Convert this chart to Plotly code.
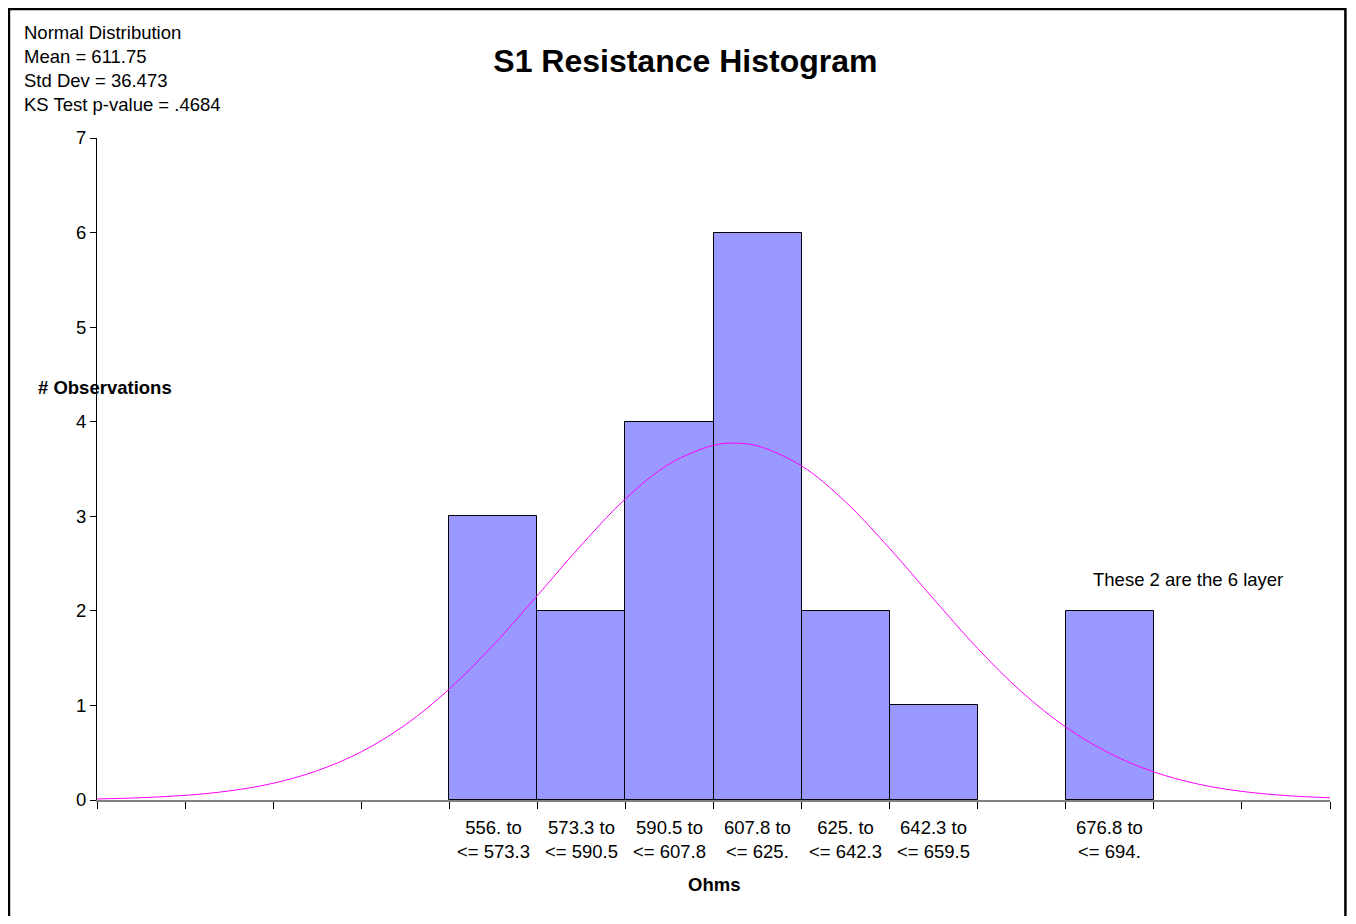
import plotly.graph_objects as go

# --- DATA ---
BIN_LO = [556.0, 573.25, 590.5, 607.75, 625.0, 642.25, 676.75]
BIN_HI = [573.25, 590.5, 607.75, 625.0, 642.25, 659.5, 694.0]
COUNTS = [3, 2, 4, 6, 2, 1, 2]
BIN_LABELS = [
    "556. to<br><= 573.3",
    "573.3 to<br><= 590.5",
    "590.5 to<br><= 607.8",
    "607.8 to<br><= 625.",
    "625. to<br><= 642.3",
    "642.3 to<br><= 659.5",
    "676.8 to<br><= 694.",
]
# axis tick edges (14 slots of equal width)
EDGES = [487.0, 504.25, 521.5, 538.75, 556.0, 573.25, 590.5, 607.75,
         625.0, 642.25, 659.5, 676.75, 694.0, 711.25, 728.5]

# fitted normal curve
CURVE_X = [487.0, 495.6, 504.25, 512.9, 521.5, 530.1, 538.75, 547.4, 556.0,
           564.6, 573.25, 581.9, 590.5, 599.1, 607.75, 611.75, 616.4, 625.0,
           633.6, 642.25, 650.9, 659.5, 668.1, 676.75, 685.4, 694.0, 702.6,
           711.25, 719.9, 728.5]
CURVE_Y = [0.011, 0.024, 0.049, 0.096, 0.177, 0.309, 0.509, 0.795, 1.173,
           1.638, 2.162, 2.698, 3.185, 3.554, 3.751, 3.774, 3.744, 3.533,
           3.153, 2.660, 2.123, 1.602, 1.143, 0.771, 0.492, 0.297, 0.169,
           0.091, 0.047, 0.023]

STATS_TEXT = ("Normal Distribution<br>Mean = 611.75<br>Std Dev = 36.473"
              "<br>KS Test p-value = .4684")

# --- THEME ---
FONT = "Arial, Liberation Sans, sans-serif"
BAR_COLOR = "#9999FF"
CURVE_COLOR = "#FF00FF"
TXT = 18.5

centers = [(a + b) / 2 for a, b in zip(BIN_LO, BIN_HI)]
widths = [b - a for a, b in zip(BIN_LO, BIN_HI)]

fig = go.Figure()

fig.add_trace(go.Bar(
    x=centers, y=COUNTS, width=widths,
    marker=dict(color=BAR_COLOR, line=dict(color="#000000", width=1)),
    showlegend=False, hoverinfo="skip",
))

fig.add_trace(go.Scatter(
    x=CURVE_X, y=CURVE_Y, mode="lines", line_shape="spline",
    line=dict(color=CURVE_COLOR, width=1),
    showlegend=False, hoverinfo="skip",
))

annotations = [
    dict(text=STATS_TEXT, xref="paper", yref="paper",
         x=-0.0605, y=1.1785, xanchor="left", yanchor="top", align="left",
         showarrow=False, font=dict(size=TXT)),
    dict(text="<b># Observations</b>", xref="paper", yref="paper",
         x=-0.0495, y=0.623, xanchor="left", yanchor="middle",
         showarrow=False, font=dict(size=TXT)),
    dict(text="<b>Ohms</b>", xref="paper", yref="paper",
         x=0.5, y=-0.127, xanchor="center", yanchor="middle",
         showarrow=False, font=dict(size=TXT)),
    dict(text="These 2 are the 6 layer", xref="paper", yref="paper",
         x=0.8062, y=0.333, xanchor="left", yanchor="middle",
         showarrow=False, font=dict(size=TXT)),
]
for cx, lab in zip(centers, BIN_LABELS):
    annotations.append(dict(text=lab, xref="x", yref="paper", x=cx, y=-0.0604,
                            xanchor="center", yanchor="middle", align="center",
                            showarrow=False, font=dict(size=TXT)))

fig.update_layout(
    width=1348, height=908,
    paper_bgcolor="white", plot_bgcolor="white",
    font=dict(family=FONT, color="#000000", size=TXT),
    margin=dict(l=89, r=26, t=130, b=116),
    bargap=0,
    title=dict(text="<b>S1 Resistance Histogram</b>", x=0.5025, xanchor="center",
               y=0.9416, yanchor="middle", font=dict(size=32, family=FONT)),
    xaxis=dict(range=[EDGES[0], EDGES[-1]], tickvals=EDGES,
               ticktext=[""] * len(EDGES), ticks="outside", ticklen=7,
               tickcolor="#000000", showline=True, linecolor="#808080",
               linewidth=2, showgrid=False, zeroline=False),
    yaxis=dict(range=[0, 7], dtick=1, ticks="outside", ticklen=6,
               tickcolor="#000000", showline=True, linecolor="#000000",
               linewidth=1, showgrid=False, zeroline=False,
               tickfont=dict(size=TXT)),
    annotations=annotations,
    shapes=[
        dict(type="rect", xref="paper", yref="paper",
             x0=-0.0714, x1=1.0125, y0=-0.25, y1=1.1949,
             line=dict(color="#000000", width=2.5), fillcolor="rgba(0,0,0,0)"),
    ],
)

fig.write_html("out.html")
